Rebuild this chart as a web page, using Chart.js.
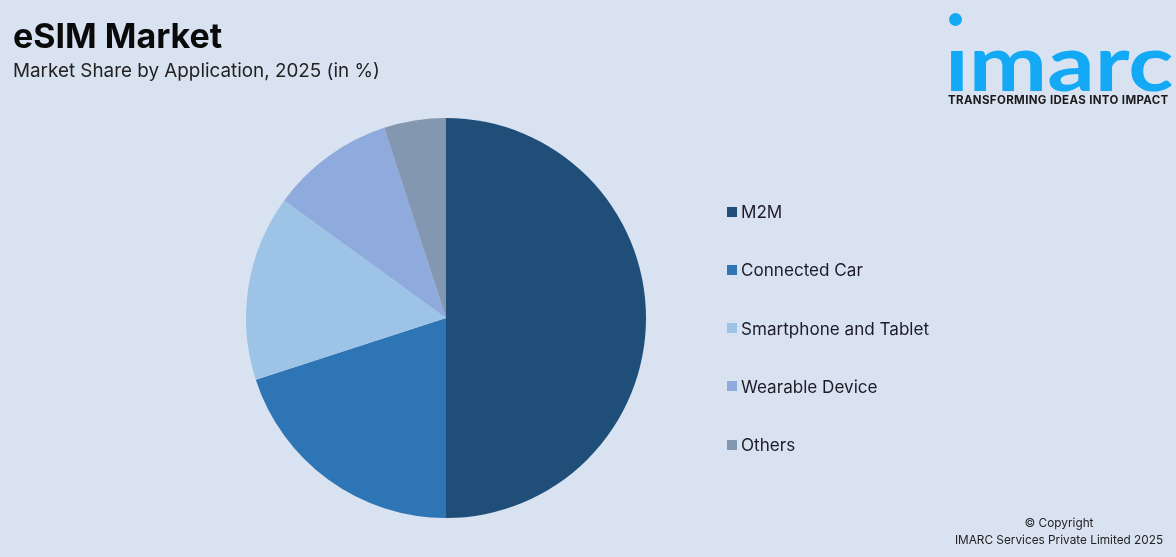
<!DOCTYPE html>
<html>
<head>
<meta charset="utf-8">
<title>eSIM Market</title>
<script src="https://cdn.jsdelivr.net/npm/chart.js@4"></script>
<style>
  html, body { margin: 0; padding: 0; }
  body { width: 1176px; height: 557px; background: #d9e2f1; position: relative; overflow: hidden; font-family: Inter, "Noto Sans", sans-serif; color: #111; }
  #pie { position: absolute; left: 0; top: 0; }
  .title { position: absolute; left: 13px; top: 16px; font-size: 34px; line-height: 40px; font-weight: 700; white-space: nowrap; color: #0a0a0a; }
  .subtitle { position: absolute; left: 13px; top: 58px; font-size: 18.85px; line-height: 26px; white-space: nowrap; color: #222; }
  #legend { position: absolute; left: 727px; top: 182.4px; }
  .row { height: 58.25px; display: flex; align-items: center; font-size: 17.1px; color: #1c1c28; white-space: nowrap; }
  .swatch { width: 10px; height: 10px; margin-right: 4px; }
  .logo { position: absolute; left: 945px; top: 13px; width: 226px; height: 99px; }
  .logo .dot { position: absolute; left: 4px; top: 0; width: 13px; height: 13px; border-radius: 50%; background: #14a9f5; }
  .logo .word { position: absolute; left: 0; top: 6px; font-family: Lato, sans-serif; font-size: 78px; line-height: 84px; font-weight: 700; color: #14a9f5; white-space: nowrap; transform-origin: 0 0; transform: scaleX(1.2); }
  .logo .word .stem { display: inline-block; clip-path: inset(30px 0 0 0); }
  .logo .tag { position: absolute; left: 3px; top: 80px; font-size: 11.5px; font-weight: 700; color: #1a1a1a; white-space: nowrap; letter-spacing: 0.35px; }
  .footer { position: absolute; left: 924px; width: 270px; top: 515px; text-align: center; font-size: 11.8px; line-height: 17px; color: #222; }
</style>
</head>
<body>
<canvas id="pie" width="1176" height="557"></canvas>
<div class="title">eSIM Market</div>
<div class="subtitle">Market Share by Application, 2025 (in %)</div>
<div id="legend"></div>
<div class="logo">
  <div class="word"><span class="stem">i</span>marc</div>
  <div class="dot"></div>
  <div class="tag">TRANSFORMING IDEAS INTO IMPACT</div>
</div>
<div class="footer">© Copyright<br>IMARC Services Private Limited 2025</div>
<script>
const categories = ['M2M', 'Connected Car', 'Smartphone and Tablet', 'Wearable Device', 'Others'];
const shares = [50, 20, 15, 10, 5];
const sliceColors = ['#1f4e79', '#2e75b6', '#9dc3e6', '#8faadc', '#8497b0'];

// Legend sits apart from the pie, so build it by hand
const legend = document.getElementById('legend');
categories.forEach((name, i) => {
  const row = document.createElement('div');
  row.className = 'row';
  const swatch = document.createElement('span');
  swatch.className = 'swatch';
  swatch.style.background = sliceColors[i];
  row.appendChild(swatch);
  row.appendChild(document.createTextNode(name));
  legend.appendChild(row);
});

const ctx = document.getElementById('pie').getContext('2d');
new Chart(ctx, {
  type: 'pie',
  data: {
    labels: categories,
    datasets: [{
      data: shares,
      backgroundColor: sliceColors,
      borderWidth: 0
    }]
  },
  options: {
    responsive: false,
    animation: false,
    layout: { padding: { left: 246, right: 530, top: 118, bottom: 39 } },
    plugins: {
      legend: { display: false },
      tooltip: { enabled: false }
    }
  }
});
</script>
</body>
</html>
